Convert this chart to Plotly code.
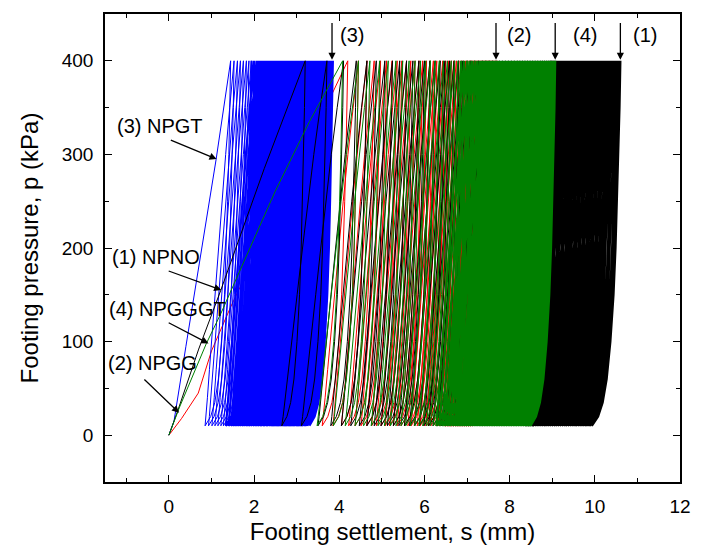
import plotly.graph_objects as go

# ---------------- data ----------------
# axis ticks
x_ticks = [0, 2, 4, 6, 8, 10, 12]
y_ticks = [0, 100, 200, 300, 400]

# normalised shape of one unloading branch (400 -> 10 kPa) and one reloading branch (10 -> 400 kPa)
unload_p = [400, 350, 300, 250, 200, 150, 100, 60, 35, 20, 10]
unload_frac = [1.0, 0.97, 0.93, 0.88, 0.83, 0.76, 0.65, 0.52, 0.38, 0.22, 0.0]
reload_p = [10, 20, 40, 70, 100, 150, 200, 250, 300, 350, 400]
reload_frac = [0.0, 0.03, 0.08, 0.15, 0.22, 0.34, 0.46, 0.58, 0.71, 0.85, 1.0]

# (3) NPGT  - blue
blue_load_s = [0, 0.12, 0.40, 0.80, 1.11, 1.45]
blue_load_p = [0, 15, 95, 205, 295, 400]
blue_peak = [1.45, 1.53, 1.61, 1.68, 1.75, 1.82, 1.88, 1.94, 2.00, 2.06,
             2.11, 2.16, 2.21, 2.26, 2.31, 2.35, 2.40, 2.44, 2.48, 2.52,
             2.56, 2.60, 2.64, 2.68, 2.72, 2.75, 2.79, 2.82, 2.86, 2.89,
             2.92, 2.96, 2.99, 3.02, 3.05, 3.08, 3.11, 3.14, 3.17, 3.20,
             3.23, 3.26, 3.29, 3.32, 3.35, 3.38, 3.41, 3.44, 3.47, 3.50,
             3.53, 3.56, 3.59, 3.62, 3.65, 3.68, 3.72, 3.76, 3.80, 3.85]
blue_valley = [0.85, 0.93, 1.01, 1.08, 1.15, 1.22, 1.28, 1.34, 1.40, 1.46,
               1.51, 1.56, 1.61, 1.66, 1.71, 1.75, 1.80, 1.84, 1.88, 1.92,
               1.97, 2.01, 2.05, 2.09, 2.13, 2.16, 2.20, 2.23, 2.27, 2.30,
               2.34, 2.38, 2.41, 2.44, 2.47, 2.50, 2.53, 2.56, 2.59, 2.62,
               2.66, 2.69, 2.72, 2.75, 2.78, 2.81, 2.84, 2.87, 2.90, 2.93,
               2.97, 3.00, 3.03, 3.06, 3.09, 3.12, 3.16, 3.20, 3.25, 3.30]

# (1) NPNO  - black
black_load_s = [0, 0.20, 0.70, 1.22, 2.24, 3.20]
black_load_p = [0, 25, 92, 155, 285, 400]
black_peak = [3.20, 3.71, 4.10, 4.40, 4.65, 4.87, 5.07, 5.25, 5.42, 5.58,
              5.73, 5.87, 6.00, 6.13, 6.25, 6.37, 6.48, 6.59, 6.70, 6.80,
              6.90, 7.00, 7.09, 7.18, 7.27, 7.36, 7.44, 7.52, 7.60, 7.68,
              7.76, 7.83, 7.90, 7.97, 8.04, 8.11, 8.18, 8.24, 8.30, 8.36,
              8.42, 8.48, 8.54, 8.60, 8.66, 8.72, 8.77, 8.82, 8.87, 8.92,
              8.97, 9.02, 9.07, 9.12, 9.17, 9.22, 9.27, 9.32, 9.37, 9.42,
              9.47, 9.52, 9.57, 9.62, 9.67, 9.72, 9.77, 9.82, 9.87, 9.92,
              9.97, 10.02, 10.07, 10.12, 10.17, 10.22, 10.27, 10.32, 10.37, 10.42,
              10.47, 10.52, 10.56, 10.60]
black_valley = [2.65, 3.11, 3.50, 3.80, 4.05, 4.27, 4.47, 4.65, 4.82, 4.98,
                5.13, 5.27, 5.40, 5.53, 5.65, 5.77, 5.88, 5.99, 6.10, 6.20,
                6.30, 6.40, 6.49, 6.58, 6.67, 6.76, 6.84, 6.92, 7.00, 7.08,
                7.16, 7.23, 7.30, 7.37, 7.44, 7.51, 7.58, 7.64, 7.70, 7.76,
                7.82, 7.88, 7.94, 8.00, 8.06, 8.12, 8.17, 8.22, 8.27, 8.32,
                8.37, 8.42, 8.47, 8.52, 8.55, 8.60, 8.65, 8.70, 8.75, 8.80,
                8.84, 8.89, 8.94, 8.99, 9.04, 9.08, 9.13, 9.18, 9.23, 9.28,
                9.32, 9.37, 9.42, 9.47, 9.52, 9.56, 9.61, 9.66, 9.71, 9.76,
                9.80, 9.85, 9.89, 9.93]

# (2) NPGG  - red
red_load_s = [0, 0.30, 0.69, 0.88, 1.00, 1.45, 2.00, 3.00, 4.20]
red_load_p = [0, 18, 45, 72, 90, 137, 190, 285, 400]
red_peak = [4.20, 4.45, 4.65, 4.82, 4.97, 5.11, 5.24, 5.36, 5.47, 5.58,
            5.68, 5.78, 5.87, 5.96, 6.05, 6.13, 6.21, 6.29, 6.36, 6.43,
            6.50, 6.57, 6.63, 6.69, 6.75, 6.81, 6.87, 6.92, 6.97, 7.02,
            7.07, 7.12, 7.17, 7.22, 7.27, 7.32, 7.37, 7.42, 7.47, 7.52,
            7.57, 7.62, 7.66, 7.70]
red_valley = [3.60, 3.85, 4.05, 4.22, 4.37, 4.51, 4.64, 4.76, 4.87, 4.98,
              5.08, 5.18, 5.27, 5.36, 5.45, 5.53, 5.61, 5.69, 5.76, 5.83,
              5.90, 5.97, 6.03, 6.09, 6.15, 6.21, 6.27, 6.32, 6.37, 6.42,
              6.47, 6.52, 6.57, 6.62, 6.67, 6.72, 6.77, 6.82, 6.87, 6.92,
              6.97, 7.02, 7.06, 7.10]

# (4) NPGGGT - green
green_load_s = [0, 0.25, 0.88, 1.22, 2.49, 3.30, 4.08]
green_load_p = [0, 30, 98, 130, 260, 335, 400]
green_peak = [4.08, 4.45, 4.72, 4.95, 5.15, 5.33, 5.49, 5.64, 5.78, 5.91,
              6.03, 6.14, 6.25, 6.35, 6.45, 6.54, 6.63, 6.71, 6.79, 6.86,
              6.93, 7.00, 7.06, 7.12, 7.18, 7.24, 7.30, 7.35, 7.40, 7.45,
              7.50, 7.55, 7.60, 7.65, 7.70, 7.75, 7.80, 7.85, 7.89, 7.93,
              7.97, 8.01, 8.05, 8.09, 8.13, 8.17, 8.21, 8.25, 8.29, 8.33,
              8.37, 8.41, 8.45, 8.49, 8.53, 8.57, 8.61, 8.65, 8.69, 8.73,
              8.77, 8.81, 8.85, 8.89, 8.93, 8.97, 9.01, 9.04, 9.07]
green_valley = [3.48, 3.86, 4.14, 4.37, 4.57, 4.75, 4.91, 5.06, 5.20, 5.33,
                5.45, 5.56, 5.67, 5.77, 5.87, 5.96, 6.05, 6.13, 6.21, 6.28,
                6.35, 6.42, 6.48, 6.54, 6.60, 6.66, 6.72, 6.77, 6.82, 6.87,
                6.92, 6.97, 7.02, 7.07, 7.12, 7.17, 7.22, 7.27, 7.31, 7.35,
                7.39, 7.43, 7.47, 7.51, 7.55, 7.59, 7.63, 7.67, 7.71, 7.75,
                7.79, 7.83, 7.87, 7.91, 7.95, 7.99, 8.03, 8.07, 8.11, 8.15,
                8.19, 8.23, 8.27, 8.31, 8.35, 8.39, 8.43, 8.46, 8.49]

# labels
side_labels = ["(3) NPGT", "(1) NPNO", "(4) NPGGGT", "(2) NPGG"]
side_label_pos = [(-0.22, 330), (-0.31, 190), (-0.04, 135), (-0.38, 77)]
side_arrow_tip = [(1.12, 295), (1.23, 155), (0.93, 98), (0.24, 24)]
side_arrow_tail = [(0.01, 316), (-0.04, 176), (-0.04, 121), (-0.61, 61)]
top_labels = ["(3)", "(2)", "(4)", "(1)"]
top_arrow_s = [3.83, 7.68, 9.07, 10.60]
top_label_s = [3.98, 7.88, 9.45, 10.84]


def cycles(peaks, valleys, start, stop):
    """Path of unloading/reloading branches for cycles start..stop-1, starting at peaks[start]."""
    xs = [peaks[start]]
    ys = [400]
    n = len(peaks)
    for i in range(start, stop):
        pk, vl = peaks[i], valleys[i]
        for p, f in zip(unload_p[1:], unload_frac[1:]):
            xs.append(vl + f * (pk - vl))
            ys.append(p)
        if i + 1 < n:
            nxt = peaks[i + 1]
            for p, f in zip(reload_p[1:], reload_frac[1:]):
                xs.append(vl + f * (nxt - vl))
                ys.append(p)
    return xs, ys


# name, first-loading, peaks, valleys, colour, index where the loops become dense
series = [
    ("(2) NPGG", red_load_s, red_load_p, red_peak, red_valley, "#FF0000", 30),
    ("(3) NPGT", blue_load_s, blue_load_p, blue_peak, blue_valley, "#0000FF", 7),
    ("(1) NPNO", black_load_s, black_load_p, black_peak, black_valley, "#000000", 50),
    ("(4) NPGGGT", green_load_s, green_load_p, green_peak, green_valley, "#008000", 19),
]

fig = go.Figure()
for name, ls, lp, pk, vl, col, k in series:
    # first loading + sparse early loops (thin)
    xs0, ys0 = cycles(pk, vl, 0, k)
    xs0 = list(ls) + xs0[1:]
    ys0 = list(lp) + ys0[1:]
    fig.add_trace(go.Scatter(x=xs0, y=ys0, mode="lines", name=name,
                             line=dict(color=col, width=1.0), hoverinfo="skip"))
    # dense later loops (drawn thicker so they merge as in the reference)
    xs1, ys1 = cycles(pk, vl, k, len(pk))
    fig.add_trace(go.Scatter(x=xs1, y=ys1, mode="lines", name=name,
                             line=dict(color=col, width=2.2), hoverinfo="skip"))

ann = []
for txt, (tx, ty) in zip(side_labels, side_label_pos):
    ann.append(dict(x=tx, y=ty, xref="x", yref="y", text=txt, showarrow=False,
                    font=dict(size=20, color="black")))
for (hx, hy), (tx, ty) in zip(side_arrow_tip, side_arrow_tail):
    ann.append(dict(x=hx, y=hy, ax=tx, ay=ty, xref="x", yref="y", axref="x", ayref="y",
                    text="", showarrow=True, arrowhead=2, arrowsize=1.1, arrowwidth=1.3,
                    arrowcolor="black", standoff=0, startstandoff=0))
for txt, s_a, s_t in zip(top_labels, top_arrow_s, top_label_s):
    ann.append(dict(x=s_a, y=401, ax=s_a, ay=442, xref="x", yref="y", axref="x", ayref="y",
                    text="", showarrow=True, arrowhead=2, arrowsize=1.1, arrowwidth=1.3,
                    arrowcolor="black", standoff=0, startstandoff=0))
    ann.append(dict(x=s_t, y=428, xref="x", yref="y", text=txt, showarrow=False,
                    xanchor="left", font=dict(size=20, color="black")))

fig.update_layout(
    width=703, height=553,
    margin=dict(l=105, r=13, t=12, b=65),
    plot_bgcolor="white", paper_bgcolor="white",
    showlegend=False,
    font=dict(family="Liberation Sans, Arial, sans-serif", size=19, color="black"),
    annotations=ann,
)
fig.update_xaxes(
    range=[-1.5, 12], tickmode="array", tickvals=x_ticks,
    ticks="inside", ticklen=7, tickwidth=1.3, tickcolor="black",
    minor=dict(dtick=1, tick0=0, ticks="inside", ticklen=4, tickwidth=1.3, tickcolor="black"),
    showline=True, linewidth=1.6, linecolor="black", mirror="ticks",
    showgrid=False, zeroline=False, ticklabelstandoff=6,
    title=dict(text="Footing settlement, s (mm)", font=dict(size=24), standoff=8),
)
fig.update_yaxes(
    range=[-50, 450], tickmode="array", tickvals=y_ticks,
    ticks="inside", ticklen=7, tickwidth=1.3, tickcolor="black",
    minor=dict(dtick=50, tick0=0, ticks="inside", ticklen=4, tickwidth=1.3, tickcolor="black"),
    showline=True, linewidth=1.6, linecolor="black", mirror="ticks",
    showgrid=False, zeroline=False, ticklabelstandoff=6,
    title=dict(text="Footing pressure, p (kPa)", font=dict(size=24), standoff=16),
)

fig.write_html("out.html")
